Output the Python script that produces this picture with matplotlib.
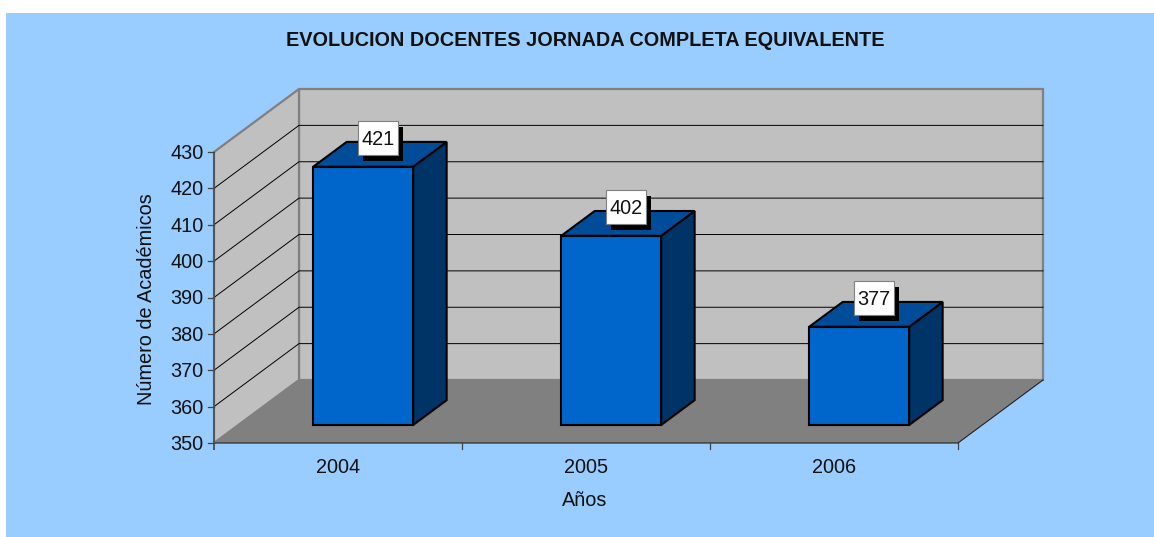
import matplotlib
matplotlib.use('Agg')
from matplotlib import pyplot as plt
from matplotlib.patches import Polygon, Rectangle

plt.rcParams['font.family'] = ['Liberation Sans', 'DejaVu Sans']

years = ['2004', '2005', '2006']
values = [421, 402, 377]
y_ticks = [350, 360, 370, 380, 390, 400, 410, 420, 430]
title = 'EVOLUCION DOCENTES JORNADA COMPLETA EQUIVALENTE'
x_title = 'Años'
y_title = 'Número de Académicos'

# pixel geometry of the fake 3d box
X0, X1 = 214, 958
Y0, Y1 = 443, 152
DX, DY = 85, -63
VMIN, VMAX = y_ticks[0], y_ticks[-1]
CAT_W = (X1 - X0) / len(years)


def proj(cat, val, depth=0):
    # category position, value, depth 0-1 -> pixels
    x = X0 + cat * CAT_W + depth * DX
    y = Y0 + (val - VMIN) / (VMAX - VMIN) * (Y1 - Y0) + depth * DY
    return (x, y)


def quad(pts, color, edge='none', lw=0, z=1):
    ax.add_patch(Polygon(pts, closed=True, facecolor=color, edgecolor=edge, linewidth=lw, zorder=z, joinstyle='miter'))


fig = plt.figure(figsize=(11.54, 5.37), dpi=100, facecolor='white')
ax = fig.add_axes([0, 0, 1, 1])
ax.set_xlim(0, 1154)
ax.set_ylim(537, 0)
ax.axis('off')

ax.add_patch(Rectangle((6, 13), 1148, 524, facecolor='#99CCFF', edgecolor='none', zorder=0))

n = len(years)
# walls and floor
quad([proj(0, VMIN, 1), proj(n, VMIN, 1), proj(n, VMAX, 1), proj(0, VMAX, 1)], '#C0C0C0', '#808080', 1.6, 1)
quad([proj(0, VMIN, 0), proj(0, VMIN, 1), proj(0, VMAX, 1), proj(0, VMAX, 0)], '#C0C0C0', '#808080', 1.6, 1)
quad([proj(0, VMIN, 0), proj(n, VMIN, 0), proj(n, VMIN, 1), proj(0, VMIN, 1)], '#808080', 'none', 0, 2)

# gridlines
for v in y_ticks[1:-1]:
    pts = [proj(0, v, 0), proj(0, v, 1), proj(n, v, 1)]
    ax.plot([p[0] for p in pts], [p[1] for p in pts], color='black', lw=0.7, zorder=3)

# edge of the floor and axes
pts = [proj(0, VMIN, 0), proj(n, VMIN, 0), proj(n, VMIN, 1)]
ax.plot([p[0] for p in pts], [p[1] for p in pts], color='#222222', lw=0.8, zorder=4)
a, b = proj(0, VMIN), proj(0, VMAX)
ax.plot([a[0], b[0]], [a[1] + 7, b[1]], color='#555555', lw=1.4, zorder=4, solid_capstyle='butt')

for v in y_ticks:
    x, y = proj(0, v)
    ax.plot([x - 6, x], [y, y], color='#444444', lw=0.9, zorder=4)
    ax.text(x - 10.5, y + 1.5, str(v), ha='right', va='center', fontsize=14.3, color='#111111')
for i in range(1, n + 1):
    x, y = proj(i, VMIN)
    ax.plot([x, x], [y, y + 6], color='#444444', lw=0.9, zorder=4)
for i, lab in enumerate(years):
    x, y = proj(i + 0.5, VMIN)
    ax.text(x, y + 24.5, lab, ha='center', va='center', fontsize=14.3, color='#111111')

# bars
D0, D1 = 0.286, 0.68
for i, val in enumerate(values):
    c0, c1 = i + 0.302, i + 0.705
    fl, fr = proj(c0, VMIN, D0), proj(c1, VMIN, D0)
    tl, tr = proj(c0, val, D0), proj(c1, val, D0)
    bl, br = proj(c0, val, D1), proj(c1, val, D1)
    sb = proj(c1, VMIN, D1)
    quad([fl, fr, tr, tl], '#0066CC', 'black', 1.5, 5)
    quad([fr, sb, br, tr], '#003366', 'black', 1.5, 5)
    quad([tl, tr, br, bl], '#004C99', 'black', 1.5, 5)
    # value label with shadow
    cx = (tl[0] + br[0]) / 2
    cy = (tl[1] + br[1]) / 2 - 16
    ax.add_patch(Rectangle((cx - 16.5, cy - 11), 40, 34, facecolor='black', edgecolor='none', zorder=6))
    ax.add_patch(Rectangle((cx - 22, cy - 17), 40, 34, facecolor='white', edgecolor='#808080', linewidth=0.8, zorder=7))
    ax.text(cx - 2, cy + 1, str(val), ha='center', va='center', fontsize=14.3, color='#111111', zorder=8)

ax.text(585.5, 40, title, ha='center', va='center', fontsize=14.3, fontweight='bold', color='#111111')
ax.text(585, 501, x_title, ha='center', va='center', fontsize=14.3, color='#111111')
ax.text(146, 299, y_title, ha='center', va='center', rotation=90, fontsize=14.3, color='#111111')

fig.savefig('out.png', dpi=100, facecolor=fig.get_facecolor())
